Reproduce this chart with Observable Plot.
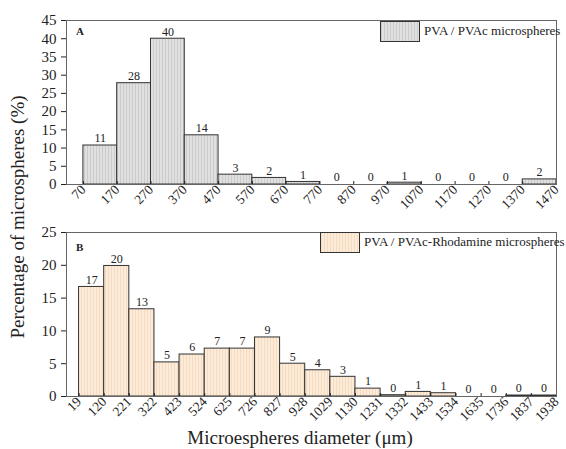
<!DOCTYPE html>
<html><head><meta charset="utf-8">
<script src="https://cdn.jsdelivr.net/npm/d3@7"></script>
<script src="https://cdn.jsdelivr.net/npm/@observablehq/plot@0.6"></script>
<style>
body{margin:0;background:#fff;}
#wrap{position:relative;width:566px;height:449px;font-family:"Liberation Serif","Times New Roman",serif;color:#222;overflow:hidden;}
#wrap svg{display:block;}
.ov{position:absolute;white-space:nowrap;}
.leg{position:absolute;border:1px solid #333;}
</style></head>
<body><div id="wrap"></div>
<script>
// Panel A data
const edgesA = [70,170,270,370,470,570,670,770,870,970,1070,1170,1270,1370,1470];
const valuesA = [10.7,27.8,40,13.5,2.7,1.8,0.7,0,0,0.5,0,0,0,1.4];
const labelsA = ["11","28","40","14","3","2","1","0","0","1","0","0","0","2"];
// Panel B data
const edgesB = [19,120,221,322,423,524,625,726,827,928,1029,1130,1231,1332,1433,1534,1635,1736,1837,1938];
const valuesB = [16.7,19.9,13.3,5.2,6.4,7.3,7.3,9.0,5.0,4.0,3.0,1.2,0.2,0.7,0.5,0,0,0.15,0.15];
const labelsB = ["17","20","13","5","6","7","7","9","5","4","3","1","0","1","1","0","0","0","0"];
const ticksA = d3.range(0,46,5);
const ticksB = d3.range(0,26,5);

function rows(edges, vals, labs){
  return vals.map((v,i)=>({x1:edges[i],x2:edges[i+1],y:v,label:labs[i]}));
}
function addPattern(svg,id,base,line){
  const ns="http://www.w3.org/2000/svg";
  const defs=document.createElementNS(ns,"defs");
  defs.innerHTML=`<pattern id="${id}" width="3" height="4" patternUnits="userSpaceOnUse"><rect width="3" height="4" fill="${base}"/><rect x="0" width="1" height="4" fill="${line}"/></pattern>`;
  svg.insertBefore(defs,svg.firstChild);
}
function panel(opts){
  const data=rows(opts.edges,opts.values,opts.labels);
  return Plot.plot({
    width:566,height:opts.height,
    marginLeft:66,marginRight:10,marginTop:opts.mt,marginBottom:opts.mb,
    style:{fontFamily:'"Liberation Serif","Times New Roman",serif',fontSize:"13px",color:"#222",background:"white"},
    x:{domain:opts.xdom},
    y:{domain:opts.ydom},
    marks:[
      Plot.rectY(data.filter(d=>d.y>0),{x1:"x1",x2:"x2",y:"y",fill:`url(#${opts.pid})`,stroke:"#333",strokeWidth:1}),
      Plot.text(data,{x:d=>(d.x1+d.x2)/2,y:"y",text:"label",dy:-7,fontSize:12,fill:"#222"}),
      Plot.axisX({ticks:opts.edges,tickFormat:d=>String(d),tickRotate:-45,tickSize:-3,tickPadding:6,label:null,fontSize:13.5}),
      Plot.axisY({ticks:opts.yticks,tickSize:5,tickPadding:5,label:null,fontSize:15}),
      Plot.frame({stroke:"#666",strokeWidth:1})
    ]
  });
}
const wrap=document.getElementById("wrap");
const pA=panel({edges:edgesA,values:valuesA,labels:labelsA,height:222,mt:20,mb:38,xdom:[20,1470],ydom:[0,45],yticks:ticksA,pid:"patA"});
addPattern(pA,"patA","#e0e0e0","#cbcbcb");
const pB=panel({edges:edgesB,values:valuesB,labels:labelsB,height:227,mt:10,mb:53,xdom:[-31.5,1938],ydom:[0,25],yticks:ticksB,pid:"patB"});
addPattern(pB,"patB","#fdebd7","#f3dcc4");
wrap.appendChild(pA);wrap.appendChild(pB);

function ov(html,css){const d=document.createElement("div");d.className="ov";d.innerHTML=html;Object.assign(d.style,css);wrap.appendChild(d);return d;}
ov("A",{left:"76px",top:"25px",fontWeight:"bold",fontSize:"11px"});
ov("B",{left:"76px",top:"241px",fontWeight:"bold",fontSize:"11px"});
// legends
const lA=document.createElement("div");lA.className="leg";Object.assign(lA.style,{left:"380px",top:"21px",width:"38px",height:"19px",background:"repeating-linear-gradient(90deg,#cbcbcb 0 1px,#e0e0e0 1px 3px)"});wrap.appendChild(lA);
ov("PVA / PVAc microspheres",{left:"424px",top:"23px",fontSize:"13px"});
const lB=document.createElement("div");lB.className="leg";Object.assign(lB.style,{left:"320px",top:"232px",width:"38px",height:"19px",background:"repeating-linear-gradient(90deg,#f3dcc4 0 1px,#fdebd7 1px 3px)"});wrap.appendChild(lB);
ov("PVA / PVAc-Rhodamine microspheres",{left:"364px",top:"234px",fontSize:"13px"});
// axis titles
ov("Percentage of microspheres (%)",{left:"18px",top:"217px",fontSize:"19px",transform:"translate(-50%,-50%) rotate(-90deg)"});
ov("Microespheres diameter (μm)",{left:"300px",top:"427px",fontSize:"19px",transform:"translateX(-50%)"});
</script></body></html>
